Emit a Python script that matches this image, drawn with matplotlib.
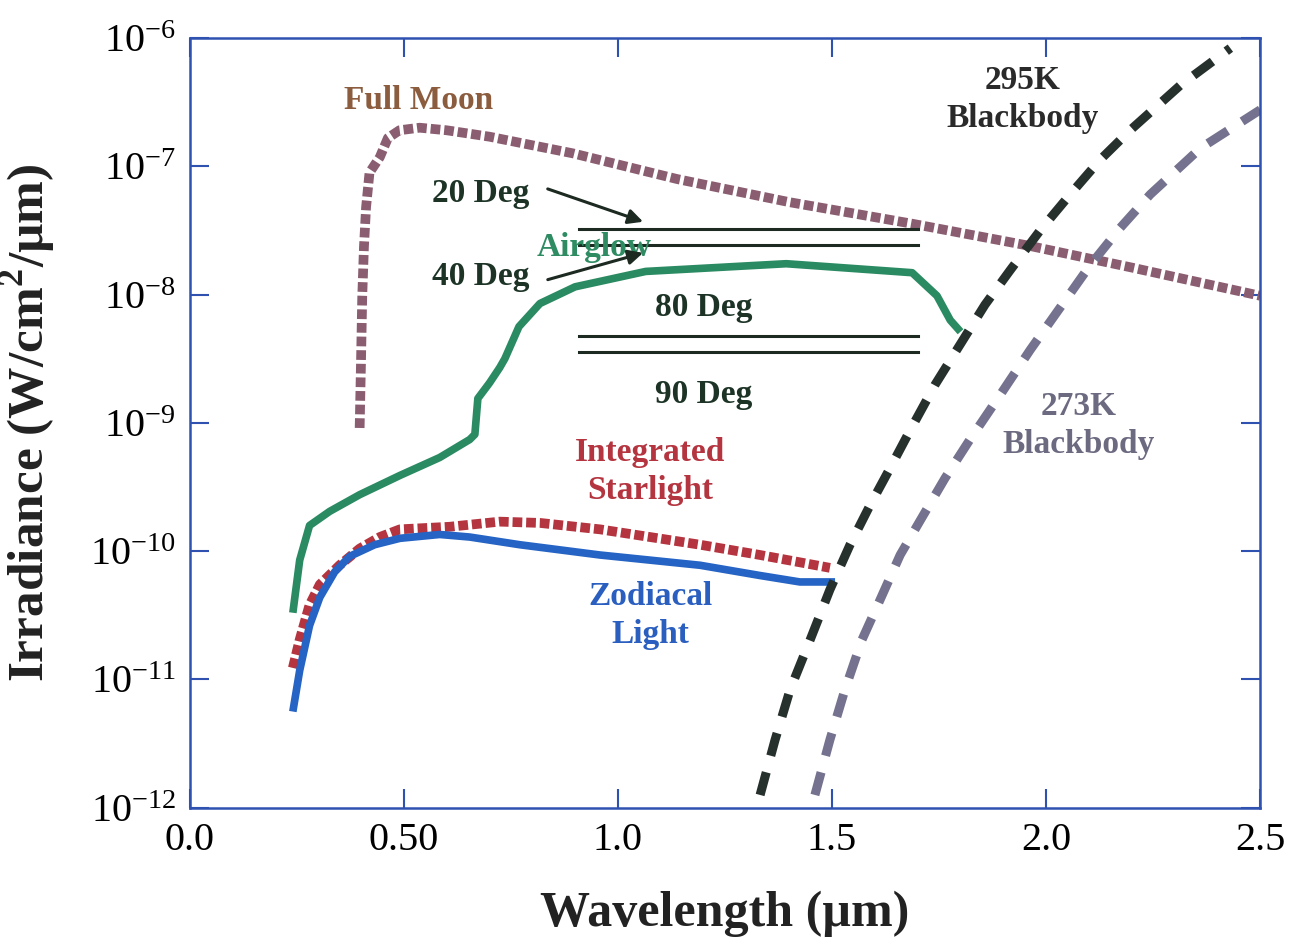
"""Night-sky irradiance sources vs wavelength (log scale), redrawn from a figure."""

import matplotlib

matplotlib.use("Agg")
import matplotlib.pyplot as plt
import numpy as np

plt.rcParams["font.family"] = ["Liberation Serif", "DejaVu Serif"]
plt.rcParams["mathtext.fontset"] = "custom"
plt.rcParams["mathtext.rm"] = "Liberation Serif"

# wavelength in um, irradiance given as log10(W/cm^2/um)
moon_wl = [0.397, 0.400, 0.403, 0.407, 0.412, 0.420, 0.444, 0.463, 0.49, 0.537,
           0.60, 0.70, 0.895, 1.138, 1.40, 1.69, 1.96, 2.2, 2.5]
moon_log = [-9.04, -8.55, -8.02, -7.63, -7.32, -7.05, -6.93, -6.78, -6.72, -6.70,
            -6.72, -6.77, -6.90, -7.10, -7.28, -7.45, -7.62, -7.79, -8.01]

airglow_wl = [0.241, 0.257, 0.280, 0.327, 0.397, 0.491, 0.584, 0.654, 0.666, 0.673,
              0.70, 0.724, 0.736, 0.769, 0.818, 0.90, 1.065, 1.393, 1.687, 1.745,
              1.776, 1.80]
airglow_log = [-10.48, -10.07, -9.80, -9.69, -9.56, -9.41, -9.27, -9.13, -9.09, -8.81,
               -8.69, -8.57, -8.50, -8.25, -8.07, -7.94, -7.82, -7.76, -7.83, -8.01,
               -8.20, -8.29]

starlight_wl = [0.241, 0.257, 0.280, 0.304, 0.350, 0.397, 0.444, 0.491, 0.607, 0.724,
                0.818, 0.958, 1.192, 1.332, 1.495]
starlight_log = [-10.91, -10.69, -10.42, -10.26, -10.11, -9.98, -9.89, -9.83, -9.81, -9.77,
                 -9.78, -9.83, -9.95, -10.03, -10.13]

zodiacal_wl = [0.241, 0.257, 0.280, 0.304, 0.339, 0.374, 0.432, 0.491, 0.584, 0.654,
               0.771, 0.958, 1.192, 1.332, 1.425, 1.507]
zodiacal_log = [-11.25, -10.93, -10.58, -10.36, -10.16, -10.04, -9.95, -9.90, -9.87, -9.89,
                -9.95, -10.03, -10.11, -10.19, -10.24, -10.24]

bb295_wl = [1.332, 1.367, 1.402, 1.449, 1.495, 1.542, 1.589, 1.636, 1.682, 1.741,
            1.799, 1.857, 1.916, 1.986, 2.056, 2.126, 2.196, 2.313, 2.43]
bb295_log = [-11.90, -11.47, -11.08, -10.69, -10.30, -9.95, -9.64, -9.35, -9.06, -8.70,
             -8.39, -8.08, -7.81, -7.50, -7.22, -6.95, -6.72, -6.37, -6.08]

bb273_wl = [1.460, 1.495, 1.530, 1.570, 1.612, 1.659, 1.706, 1.764, 1.822, 1.893,
            1.963, 2.033, 2.103, 2.173, 2.243, 2.36, 2.5]
bb273_log = [-11.90, -11.47, -11.08, -10.69, -10.38, -10.03, -9.76, -9.43, -9.13, -8.78,
             -8.43, -8.10, -7.77, -7.48, -7.22, -6.86, -6.56]

# airglow levels at zenith angles (pairs of horizontal lines)
level_wl = [0.91, 1.70]
level_log = {"20 Deg": -7.489, "40 Deg": -7.613, "80 Deg": -8.323, "90 Deg": -8.447}

x_ticks = [0.0, 0.5, 1.0, 1.5, 2.0, 2.5]
x_tick_labels = ["0.0", "0.50", "1.0", "1.5", "2.0", "2.5"]
y_exponents = [-12, -11, -10, -9, -8, -7, -6]

SPINE = "#2f52b0"


def irr(logs):
    return np.power(10.0, logs)


fig = plt.figure(figsize=(12.9, 9.47), dpi=100)
ax = fig.add_axes([0.147, 0.147, 0.830, 0.813])
ax.set_yscale("log")
ax.set_xlim(0, 2.5)
ax.set_ylim(1e-12, 1e-6)

square = dict(lw=7, linestyle=(0, (1.0, 0.4)), dash_capstyle="butt")
dashed = dict(lw=6.5, linestyle=(0, (2.6, 1.9)), dash_capstyle="butt")

ax.plot(moon_wl, irr(moon_log), color="#8a5d70", **square)
ax.plot(starlight_wl, irr(starlight_log), color="#b4343f", **square)
ax.plot(airglow_wl, irr(airglow_log), color="#2a8a62", lw=5.5, solid_capstyle="butt")
ax.plot(zodiacal_wl, irr(zodiacal_log), color="#2563c4", lw=5.5, solid_capstyle="butt")
ax.plot(bb295_wl, irr(bb295_log), color="#26302c", **dashed)
ax.plot(bb273_wl, irr(bb273_log), color="#74728e", **dashed)

for name, value in level_log.items():
    ax.plot(level_wl, irr([value, value]), color="#1c2a22", lw=2.2)

bold = dict(fontsize=24, fontweight="bold", ha="center", va="center")
ax.text(0.535, irr(-6.49), "Full Moon", color="#8b5c3e", **bold)
ax.text(0.68, irr(-7.21), "20 Deg", color="#1c3326", **bold)
ax.text(0.68, irr(-7.86), "40 Deg", color="#1c3326", **bold)
ax.text(0.945, irr(-7.63), "Airglow", color="#2e8b62", **bold)
ax.text(1.20, irr(-8.10), "80 Deg", color="#1c3326", **bold)
ax.text(1.20, irr(-8.78), "90 Deg", color="#1c3326", **bold)
ax.text(1.075, irr(-9.38), "Integrated\nStarlight", color="#b4343f",
        linespacing=1.3, **bold)
ax.text(1.075, irr(-10.50), "Zodiacal\nLight", color="#2a5fc0", linespacing=1.3, **bold)
ax.text(1.945, irr(-6.48), "295K\nBlackbody", color="#2a2a2a", linespacing=1.3, **bold)
ax.text(2.075, irr(-9.02), "273K\nBlackbody", color="#6c6a80", linespacing=1.3, **bold)

arrow = dict(arrowstyle="-|>", color="#1c2a22", lw=2.2, mutation_scale=22)
ax.annotate("", xy=(1.065, irr(-7.44)), xytext=(0.83, irr(-7.17)), arrowprops=arrow)
ax.annotate("", xy=(1.065, irr(-7.67)), xytext=(0.83, irr(-7.89)), arrowprops=arrow)

ax.set_xticks(x_ticks)
ax.set_xticklabels(x_tick_labels)
ax.set_yticks([10.0 ** e for e in y_exponents])
ax.set_yticklabels([r"$\mathregular{10^{%d}}$" % e for e in y_exponents])
ax.minorticks_off()
ax.tick_params(axis="both", which="major", direction="in", length=14, width=1.5,
               color=SPINE, labelsize=29, top=True, right=True, pad=10)
for spine in ax.spines.values():
    spine.set_color(SPINE)
    spine.set_linewidth(1.8)

ax.set_xlabel("Wavelength (µm)", fontsize=36, fontweight="bold", color="#222222")
ax.set_ylabel("Irradiance (W/cm$^\\mathregular{2}$/µm)", fontsize=37, fontweight="bold",
              color="#222222")
ax.xaxis.set_label_coords(0.5, -0.108)
ax.yaxis.set_label_coords(-0.123, 0.5)

fig.savefig("out.png", dpi=100)
